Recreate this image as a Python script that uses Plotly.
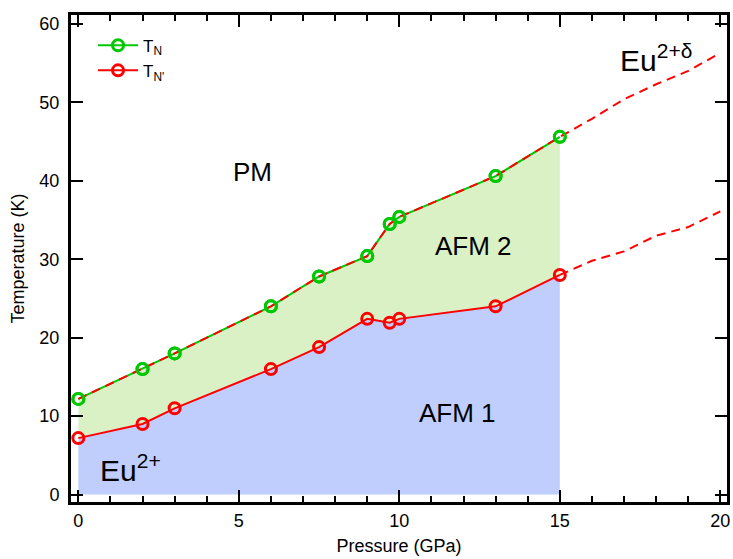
import plotly.graph_objects as go

# Data
pressure = [0, 2, 3, 6, 7.5, 9, 9.7, 10, 13, 15]
t_n = [12.2, 16.0, 18.0, 24.0, 27.8, 30.4, 34.5, 35.4, 40.6, 45.6]
t_np = [7.2, 9.0, 11.0, 16.0, 18.8, 22.4, 21.9, 22.4, 24.0, 28.0]

ext_pressure = [15, 16, 17, 18, 19, 20]
ext_t_n = [45.6, 47.9, 50.4, 52.3, 54.0, 56.3]
ext_t_np = [28.0, 29.8, 31.0, 33.0, 34.1, 36.1]

x_ticks = [0, 5, 10, 15, 20]
y_ticks = [0, 10, 20, 30, 40, 50, 60]

GREEN = "#00C800"
RED = "#FF0000"
BLUE_FILL = "#BFCEFD"
GREEN_FILL = "#D9F1C4"
FONT = "Liberation Sans, Arial, sans-serif"

fig = go.Figure()

# phase area fills
fig.add_trace(go.Scatter(x=pressure, y=t_np, mode="lines", line=dict(width=0),
                         fill="tozeroy", fillcolor=BLUE_FILL, showlegend=False,
                         hoverinfo="skip"))
fig.add_trace(go.Scatter(x=pressure, y=t_n, mode="lines", line=dict(width=0),
                         fill="tonexty", fillcolor=GREEN_FILL, showlegend=False,
                         hoverinfo="skip"))

marker_kw = dict(symbol="circle-open", size=11, line=dict(width=3))

# T_N
fig.add_trace(go.Scatter(x=pressure, y=t_n, mode="lines+markers", name="T<sub>N</sub>",
                         line=dict(color=GREEN, width=2),
                         marker=dict(color=GREEN, **marker_kw)))
# red dashed guide along T_N and its extension
fig.add_trace(go.Scatter(x=pressure + ext_pressure[1:], y=t_n + ext_t_n[1:], mode="lines",
                         line=dict(color=RED, width=2, dash="9px,6px"),
                         showlegend=False, hoverinfo="skip"))
fig.add_trace(go.Scatter(x=pressure, y=t_n, mode="markers", showlegend=False,
                         marker=dict(color=GREEN, **marker_kw), hoverinfo="skip"))

# T_N'
fig.add_trace(go.Scatter(x=ext_pressure, y=ext_t_np, mode="lines",
                         line=dict(color=RED, width=2, dash="9px,6px"),
                         showlegend=False, hoverinfo="skip"))
fig.add_trace(go.Scatter(x=pressure, y=t_np, mode="lines+markers", name="T<sub>N'</sub>",
                         line=dict(color=RED, width=2),
                         marker=dict(color=RED, **marker_kw)))

axis_common = dict(
    showline=True, linecolor="black", linewidth=2, mirror="allticks",
    ticks="inside", tickcolor="black", tickwidth=2, ticklen=13,
    showgrid=False, zeroline=False,
    tickfont=dict(family=FONT, size=18, color="black"),
)

fig.update_xaxes(range=[-0.26, 20.24], tickvals=x_ticks,
                 minor=dict(dtick=1, ticks="inside", ticklen=7, tickwidth=2,
                            tickcolor="black", showgrid=False),
                 title=dict(text="Pressure (GPa)", font=dict(family=FONT, size=18, color="black"),
                            standoff=10),
                 ticklabelstandoff=0,
                 **axis_common)
fig.update_yaxes(range=[-1.07, 61.26], tickvals=y_ticks,
                 title=dict(text="Temperature (K)", font=dict(family=FONT, size=18, color="black"),
                            standoff=10),
                 ticklabelstandoff=5,
                 **axis_common)

ann_font = dict(family=FONT, color="black")
annotations = [
    dict(x=5.44, y=41.1, text="PM", font=dict(size=26, **ann_font),
         xanchor="center", yanchor="middle"),
    dict(x=12.3, y=31.7, text="AFM 2", font=dict(size=26, **ann_font),
         xanchor="center", yanchor="middle"),
    dict(x=11.8, y=10.46, text="AFM 1", font=dict(size=26, **ann_font),
         xanchor="center", yanchor="middle"),
    dict(x=0.62, y=0.7, text="Eu<sup>2+</sup>", font=dict(size=30, **ann_font),
         xanchor="left", yanchor="bottom"),
    dict(x=16.8, y=53.0, text="Eu<sup>2+δ</sup>", font=dict(size=30, **ann_font),
         xanchor="left", yanchor="bottom"),
]
for a in annotations:
    a.update(xref="x", yref="y", showarrow=False)

fig.update_layout(
    width=733, height=559,
    margin=dict(l=70, r=5, t=14, b=56, autoexpand=False),
    paper_bgcolor="white", plot_bgcolor="white",
    font=dict(family=FONT, size=18, color="black"),
    showlegend=True,
    legend=dict(x=0.035, y=0.972, xanchor="left", yanchor="top", traceorder="normal",
                bgcolor="rgba(0,0,0,0)", font=dict(family=FONT, size=17, color="black"),
                itemwidth=40, tracegroupgap=0),
    annotations=annotations,
    shapes=[dict(type="rect", xref="paper", yref="paper", x0=0, y0=0, x1=1, y1=1,
                 line=dict(color="black", width=2), layer="above")],
)

# remove the page's default body margin so the figure fills the window exactly
fig.write_html(
    "out.html",
    config={"displayModeBar": False},
    post_script="document.body.style.margin='0';document.body.style.overflow='hidden';",
)
